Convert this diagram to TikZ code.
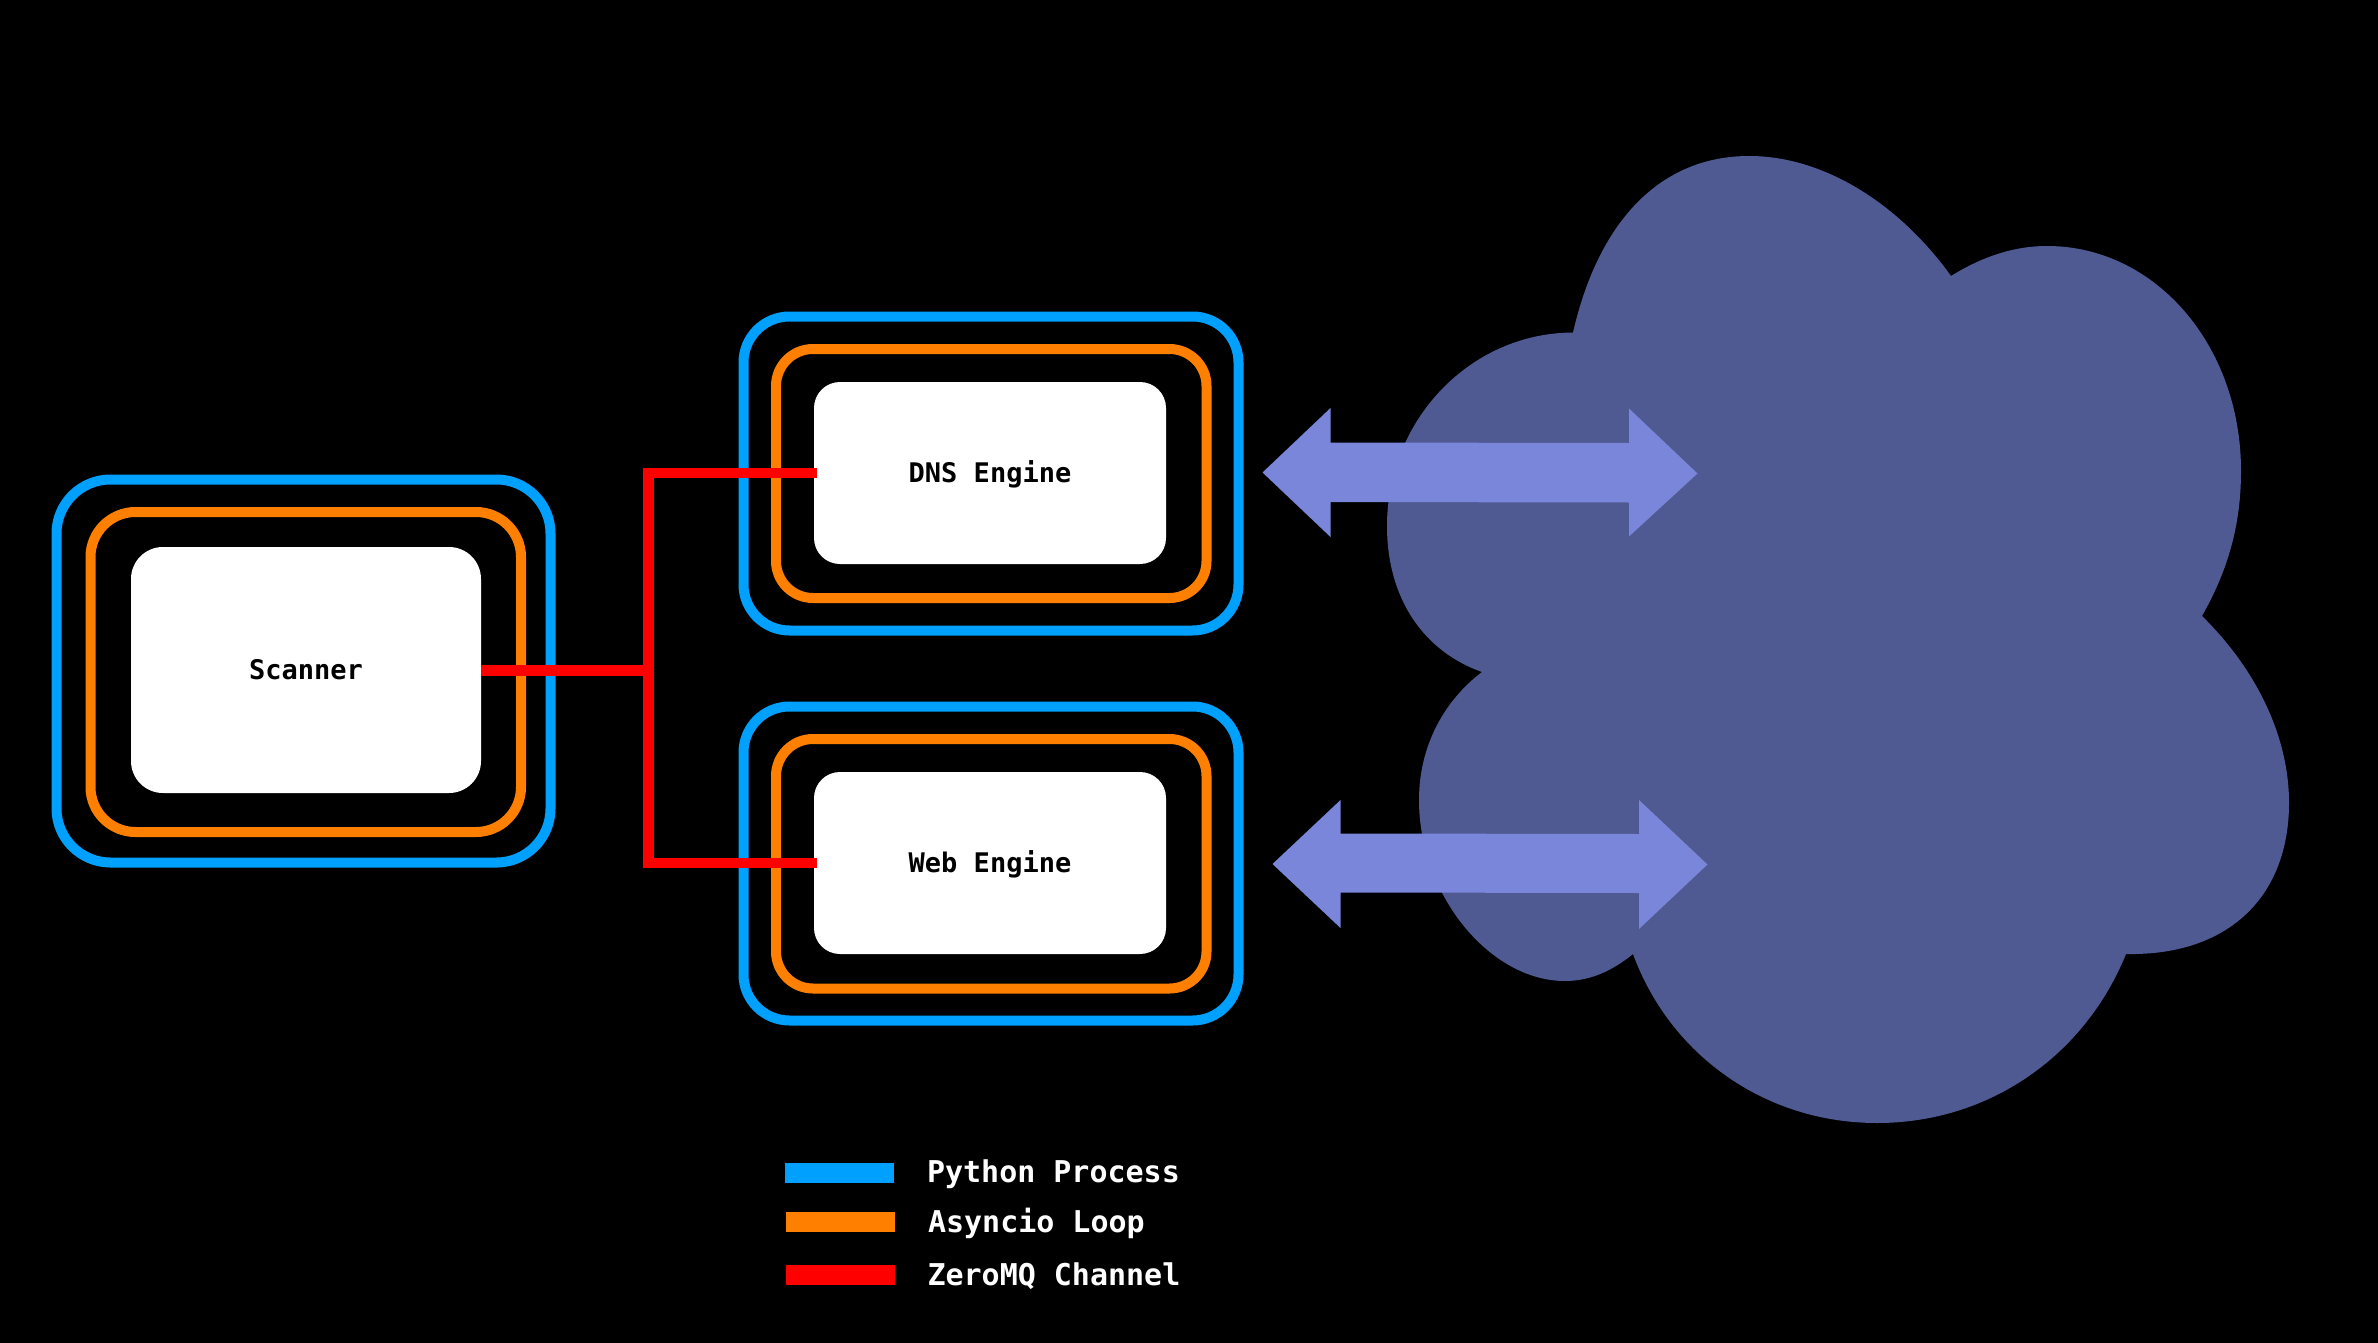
\documentclass[tikz,border=0pt]{standalone}
\usepackage{fontspec}
\setmonofont{DejaVu Sans Mono}
\usetikzlibrary{calc}
\definecolor{procblue}{RGB}{0,160,255}
\definecolor{loopor}{RGB}{255,128,0}
\definecolor{chanred}{RGB}{255,0,0}
\definecolor{cloudc}{RGB}{79,90,146}
\definecolor{arrowc}{RGB}{121,134,218}
\tikzset{
  x=1pt,y=-1pt,
  box/.style={anchor=center,inner sep=0pt,outer sep=0pt},
  proc/.style={box,draw=procblue,line width=10pt,rounded corners=#1},
  lp/.style={box,draw=loopor,line width=10pt,rounded corners=#1},
  engine/.style={box,fill=white,rounded corners=#1,text height=20pt,text depth=1.5pt,font=\ttfamily\bfseries\fontsize{27}{30}\selectfont,text=black},
  chan/.style={draw=chanred,line width=10.5pt,line cap=butt,line join=miter},
  bigarrow/.style={fill=arrowc},
  legbar/.style={box,minimum width=109pt,minimum height=20pt},
  legtext/.style={anchor=base west,inner sep=0pt,outer sep=0pt,text=white,font=\ttfamily\bfseries\fontsize{30}{34}\selectfont}
}
\begin{document}
\begin{tikzpicture}
\useasboundingbox (0,0) rectangle (2378,1343);
\fill[black] (0,0) rectangle (2378,1343);
% cloud
\fill[cloudc] (1573,332.5)
  .. controls (1600,215) and (1665,156) .. (1749,156)
  .. controls (1825,156) and (1900,205) .. (1951,276)
  .. controls (1980,258) and (2012,246) .. (2047,246)
  .. controls (2155,246) and (2241,345) .. (2241,471)
  .. controls (2241,525) and (2228,570) .. (2202,616)
  .. controls (2255,668) and (2289,735) .. (2289,803)
  .. controls (2289,895) and (2230,956) .. (2126,954)
  .. controls (2085,1055) and (1990,1123) .. (1877,1123)
  .. controls (1765,1123) and (1670,1055) .. (1633,954)
  .. controls (1612,971) and (1590,981) .. (1565,981)
  .. controls (1490,981) and (1419,895) .. (1419,800)
  .. controls (1419,745) and (1445,700) .. (1482,672)
  .. controls (1425,652) and (1387,600) .. (1387,526)
  .. controls (1387,420) and (1470,333) .. (1573,332.5) -- cycle;
% double arrows
\fill[bigarrow] (1262.5,472.5) -- (1330.5,408) -- (1330.5,442.5) -- (1629,443) -- (1629,408.5) -- (1697.5,473.5) -- (1629,536.5) -- (1629,502.5) -- (1330.5,502) -- (1330.5,537) -- cycle;
\fill[bigarrow] (1272.5,864) -- (1340.5,800) -- (1340.5,833.5) -- (1639,834) -- (1639,800) -- (1707.5,864.5) -- (1639,929) -- (1639,893) -- (1340.5,892.5) -- (1340.5,928) -- cycle;
% process / loop frames
\node[proc=54pt,minimum width=494pt,minimum height=383pt] (scanP) at (303.5,671) {};
\node[lp=45pt,minimum width=430.5pt,minimum height=320pt] (scanL) at (305.75,672) {};
\node[proc=46pt,minimum width=495pt,minimum height=314pt] (dnsP) at (991,473.5) {};
\node[lp=37pt,minimum width=430.5pt,minimum height=249pt] (dnsL) at (991.25,473.5) {};
\node[proc=46pt,minimum width=495pt,minimum height=314pt] (webP) at (991,863.5) {};
\node[lp=37pt,minimum width=430.5pt,minimum height=249.5pt] (webL) at (991.25,863.75) {};
% white boxes
\node[engine=32pt,minimum width=350pt,minimum height=246pt] (scanner) at (306,670) {Scanner};
\node[engine=26pt,minimum width=352pt,minimum height=182pt] (dns) at (990,473) {DNS Engine};
\node[engine=26pt,minimum width=352pt,minimum height=182pt] (web) at (990,863) {Web Engine};
% channel
\coordinate (junction) at (648.5,670.3);
\coordinate (dnsEnd) at (817,473);
\coordinate (webEnd) at (817,863);
\draw[chan] (dnsEnd) -| (junction) |- (webEnd);
\draw[chan] (scanner.east |- junction) -- (junction);
% legend
\node[legbar,fill=procblue] (legA) at (839.5,1173.3) {};
\node[legbar,fill=loopor] (legB) at (840.5,1222) {};
\node[legbar,fill=chanred] (legC) at (840.5,1275) {};
\node[legtext] (legAt) at (927,1182.5) {Python Process};
\node[legtext] (legBt) at (928,1232.7) {Asyncio Loop};
\node[legtext] (legCt) at (927.5,1285) {ZeroMQ Channel};
\end{tikzpicture}
\end{document}
